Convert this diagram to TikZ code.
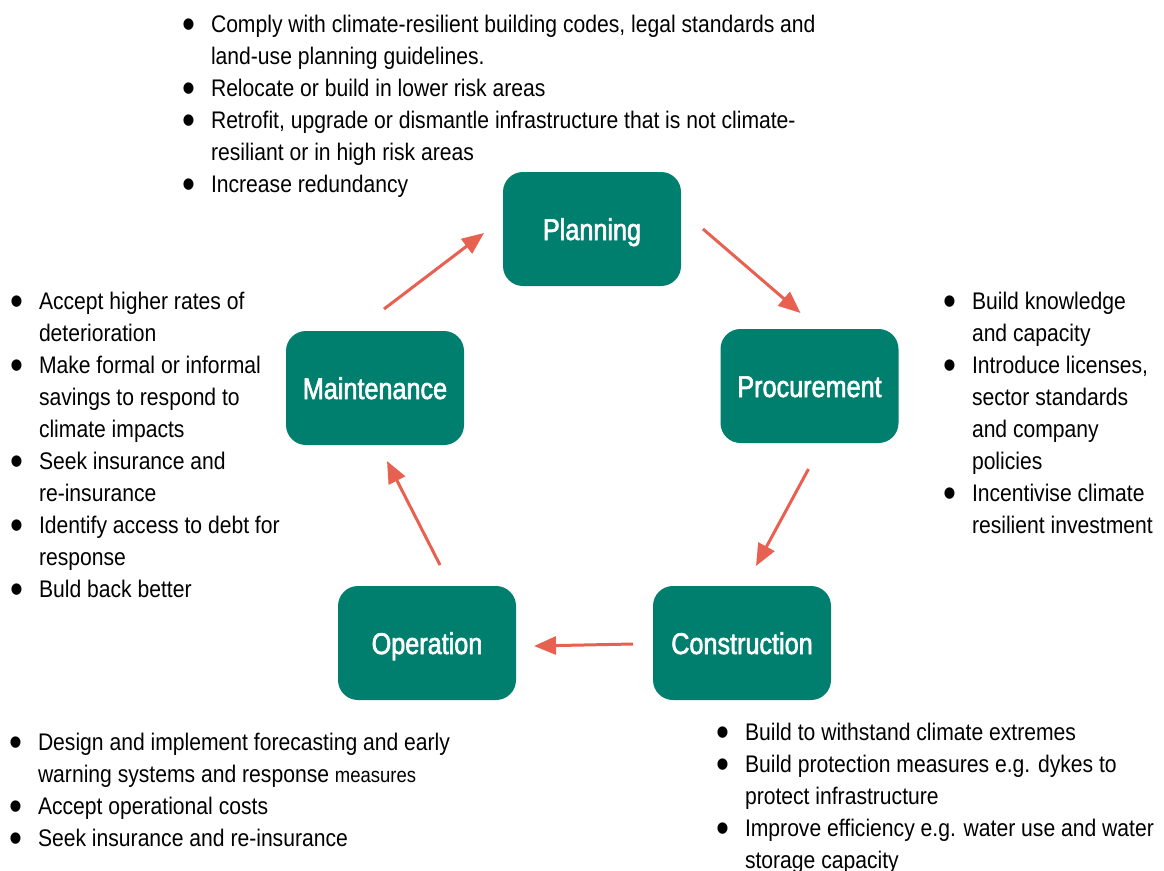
\documentclass[tikz,border=0pt]{standalone}
\usepackage{fontspec}
\setmainfont[FakeStretch=0.88]{Liberation Sans}
\newfontfamily\stageFont[FakeStretch=0.84,FakeBold=2]{Liberation Sans}
\usetikzlibrary{positioning,arrows.meta}

\begin{document}
\begin{tikzpicture}[x=1pt,y=-1pt,font=\fontsize{24}{32}\selectfont]

		\definecolor{StageTeal}{RGB}{0,126,110}
		\definecolor{ArrowRed}{RGB}{232,96,80}

		\pgfmathsetmacro{\boxW}{178}
		\pgfmathsetmacro{\boxH}{114}
		\pgfmathsetmacro{\bulIndent}{25}

		\newcommand{\noteItem}{\makebox[\bulIndent pt][l]{\hspace{-4pt}\raisebox{-6pt}{\scalebox{1.75}{\textbullet}}}}
		\newcommand{\noteCont}{\hspace*{\bulIndent pt}}

		\tikzset{
			stageBox/.style={
				fill=StageTeal,
				text=white,
				rounded corners=20pt,
				minimum width=\boxW pt,
				minimum height=\boxH pt,
				text height=24pt,
				text depth=2pt,
				inner sep=0,
				outer sep=0pt,
				font=\fontsize{30}{32}\stageFont,
			},
			stageArrow/.style={
				draw=ArrowRed,
				line width=3pt,
				-{Triangle[length=22pt,width=18pt]},
			},
			noteList/.style={
				anchor=north west,
				align=left,
				inner sep=0,
				outer sep=0pt,
			},
		}

		\useasboundingbox (0,0) rectangle (1164,870);

		% Stages
		\node[stageBox] (plan) at (592,229) {Planning};
		\node[stageBox] (proc) at (809.5,386) {Procurement};
		\node[stageBox] (cons) at (742,643) {Construction};
		\node[stageBox] (oper) at (427,643) {Operation};
		\node[stageBox] (maint) at (375,388) {Maintenance};

		% Cycle
		\draw[stageArrow] ([shift={(9,-22)}]maint.north) -- ([shift={(-19,4)}]plan.west);
		\draw[stageArrow] ([shift={(22,0)}]plan.east) -- ([shift={(-9,-16)}]proc.north);
		\draw[stageArrow] ([shift={(-1,26)}]proc.south) -- ([shift={(14,-20)}]cons.north);
		\draw[stageArrow] ([shift={(-20,1)}]cons.west) -- ([shift={(18,3)}]oper.east);
		\draw[stageArrow] ([shift={(13,-21)}]oper.north) -- ([shift={(12,16)}]maint.south);

		% Notes
		\node[noteList] (planNotes) at (186,15.5) {
			\noteItem Comply with climate-resilient building codes, legal standards and\\
			\noteCont land-use planning guidelines.\\
			\noteItem Relocate or build in lower risk areas\\
			\noteItem Retrofit, upgrade or dismantle infrastructure that is not climate-\\
			\noteCont resiliant or in high risk areas\\
			\noteItem Increase redundancy};

		\node[noteList] (procNotes) at (947,292.5) {
			\noteItem Build knowledge\\
			\noteCont and capacity\\
			\noteItem Introduce licenses,\\
			\noteCont sector standards\\
			\noteCont and company\\
			\noteCont policies\\
			\noteItem Incentivise climate\\
			\noteCont resilient investment};

		\node[noteList] (maintNotes) at (14,292.5) {
			\noteItem Accept higher rates of\\
			\noteCont deterioration\\
			\noteItem Make formal or informal\\
			\noteCont savings to respond to\\
			\noteCont climate impacts\\
			\noteItem Seek insurance and\\
			\noteCont re-insurance\\
			\noteItem Identify access to debt for\\
			\noteCont response\\
			\noteItem Buld back better};

		\node[noteList] (operNotes) at (13,733.5) {
			\noteItem Design and implement forecasting and early\\
			\noteCont warning systems and response {\fontsize{21}{32}\selectfont measures}\\
			\noteItem Accept operational costs\\
			\noteItem Seek insurance and re-insurance};

		\node[noteList] (consNotes) at (720,723.5) {
			\noteItem Build to withstand climate extremes\\
			\noteItem Build protection measures e.g. dykes to\\
			\noteCont protect infrastructure\\
			\noteItem Improve efficiency e.g. water use and water\\
			\noteCont storage capacity};

\end{tikzpicture}
\end{document}
